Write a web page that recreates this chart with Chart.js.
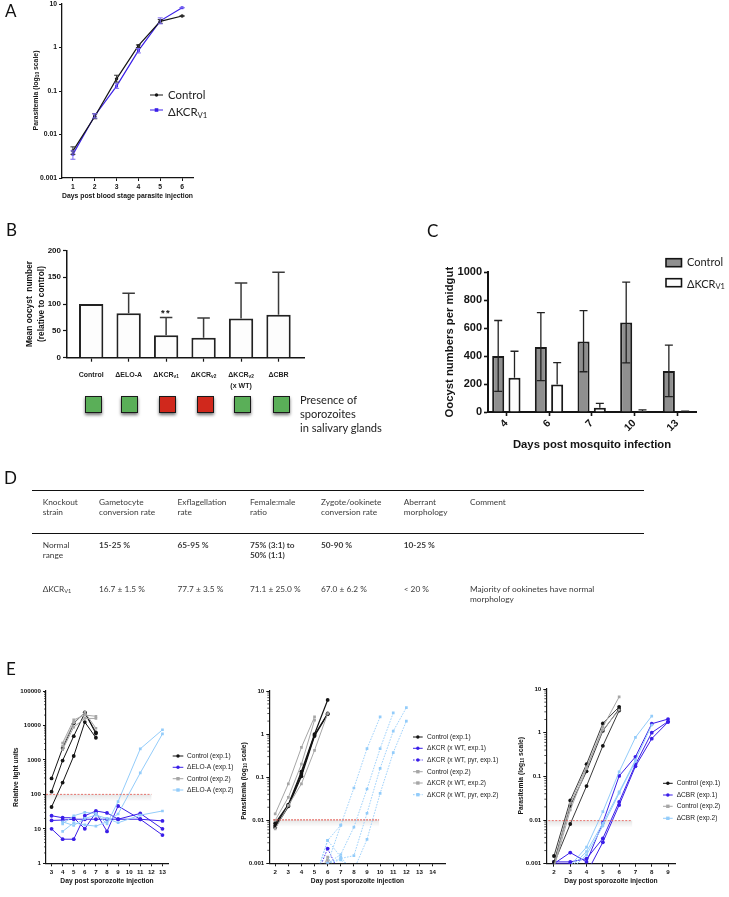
<!DOCTYPE html>
<html>
<head>
<meta charset="utf-8">
<script src="https://cdn.jsdelivr.net/npm/chart.js@4/dist/chart.umd.js"></script>
<style>
html,body{margin:0;padding:0;background:#fff}
#page{position:relative;width:729px;height:897px;overflow:hidden;filter:blur(.35px)}
canvas{position:absolute;display:block}
.t{position:absolute;font-family:Lato,sans-serif;color:#333;white-space:nowrap}
.rule{position:absolute;background:#111}
sub{font-size:.68em;line-height:0;vertical-align:-.25em}
.sq{position:absolute;box-sizing:border-box;border:1px solid #1a1a1a;box-shadow:0 2px 3px rgba(0,0,0,.55)}
</style>
</head>
<body>
<div id="page"></div>
<script>
/* ===== Panel A ===== */
const aDays=[1,2,3,4,5,6];
const aControl=[0.0042,0.026,0.19,1.1,4.0,5.3];
const aControlLow=[0.0035,0.023,0.16,1.0,3.6,5.3];
const aControlHigh=[0.0052,0.030,0.23,1.15,4.4,5.3];
const aKcr=[0.0035,0.027,0.13,0.85,4.1,8.2];
const aKcrLow=[0.0027,0.024,0.115,0.75,3.5,8.2];
const aKcrHigh=[0.0042,0.030,0.15,0.95,4.8,8.2];
const logTicksA=[0.001,0.01,0.1,1,10];
/* ===== Panel B ===== */
const bCategories=["Control","ΔELO-A","ΔKCR_{v1}","ΔKCR_{v2}","ΔKCR_{v2}\n(x WT)","ΔCBR"];
const bMeans=[100,83,42,37,73,80];
const bUpper=[null,120,75,74,139,159];
const bTicks=[0,50,100,150,200];
const bStars=["","","**","","",""];
const bSporozoites=["#5aaf58","#5aaf58","#d0281c","#d0281c","#5aaf58","#5aaf58"];
/* ===== Panel C ===== */
const cDays=["4","6","7","10","13"];
const cControl=[400,465,505,640,293];
const cControlLow=[147,225,288,352,110];
const cControlHigh=[655,712,725,930,478];
const cKcr=[245,197,30,8,3];
const cKcrHigh=[435,353,62,15,6];
const cTicks=[0,200,400,600,800,1000];
/* ===== Panel D ===== */
const dHeader=["Knockout<br>strain","Gametocyte<br>conversion rate","Exflagellation<br>rate","Female:male<br>ratio","Zygote/ookinete<br>conversion rate","Aberrant<br>morphology","Comment"];
const dNormal=["Normal<br>range","<b>15-25 %</b>","<b>65-95 %</b>","<b>75% (3:1) to<br>50% (1:1)</b>","<b>50-90 %</b>","<b>10-25 %</b>",""];
const dKcr=["ΔKCR<sub>V1</sub>","16.7 ± 1.5 %","77.7 ± 3.5 %","71.1 ± 25.0 %","67.0 ± 6.2 %","&lt; 20 %","Majority of ookinetes have normal<br>morphology"];
/* ===== Panel E, left ===== */
const e1Days=[3,4,5,6,7,8,9,11,13];
const e1Control1=[
 [290,2200,11500,24000,6300],
 [120,960,4900,23000,5800],
 [43,220,1300,12500,4400]];
const e1Control2=[
 [null,3100,14500,20000,18500],
 [null,2000,9000,16000,16000],
 [null,2500,12000,24000,8300]];
const e1Elo1=[
 [17.5,18,19,19,19,19,19,19,17],
 [24,21,21,10,30,8.4,46,19,6.6],
 [10,5,5,24,33,29,19,28,10]];
const e1Elo2=[
 [null,14,24,30,28,14,62,2100,7500],
 [null,8.4,15,13,12,16,27,420,5700],
 [null,16,12.5,20,25,20,15,25,33]];
const e1Threshold=100;
const e1Legend=["Control (exp.1)","ΔELO-A (exp.1)","Control (exp.2)","ΔELO-A (exp.2)"];
/* ===== Panel E, middle ===== */
const e2Days=[2,3,4,5,6,7,8,9,10,11,12];
const e2Control1=[
 [0.0085,0.023,0.135,1.0,6.2],
 [0.0068,0.021,0.105,0.9,2.9],
 [0.0075,0.022,0.12,0.95,3.0]];
const e2Control2=[
 [0.014,0.07,0.49,2.5],
 [0.010,0.034,0.2,2.1],
 [0.0063,0.022,0.07,0.42,3.0]];
const e2KcrWt1=[[null,null,null,0.0003,0.001,0.0003]];
const e2KcrPyr1=[[null,null,null,0.0004,0.0022,0.0005]];
const e2KcrWt2=[[null,null,null,0.0003,0.0014,0.0004],[null,null,null,0.0003,0.0012,0.0003]];
const e2KcrPyr2=[
 [null,null,null,0.0003,0.001,0.0077,0.056,0.46,2.5],
 [null,null,null,0.0003,0.001,0.0016,0.0069,0.053,0.46,3.1],
 [null,null,null,0.0003,0.001,0.0013,0.0015,0.0145,0.16,1.17,4.1],
 [null,null,null,0.0003,0.001,0.0012,0.0007,0.0036,0.042,0.37,2.0],
 [null,null,null,0.0004,0.0034,0.0014,0.0006],
 [null,null,null,0.0004,0.0034,0.0077]];
const e2Threshold=0.0102;
const e2Ticks=[2,3,4,5,6,7,8,9,10,11,12,13,14];
const e2Legend=["Control (exp.1)","ΔKCR (x WT, exp.1)","ΔKCR (x WT, pyr, exp.1)","Control (exp.2)","ΔKCR (x WT, exp.2)","ΔKCR (x WT, pyr, exp.2)"];
/* ===== Panel E, right ===== */
const e3Days=[2,3,4,5,6,7,8,9];
const e3Control1=[
 [0.0015,0.028,0.19,1.63,3.9],
 [0.0011,0.021,0.13,1.1,3.5],
 [0.001,0.0081,0.06,0.5,3.2]];
const e3Control2=[
 [0.0008,0.017,0.15,1.35,6.6],
 [0.0009,0.024,0.165,1.15,3.3]];
const e3Cbr1=[
 [0.001,0.0018,0.0011,0.0087,0.102,0.28,1.6,2.05],
 [0.0011,0.0011,0.0013,0.0038,0.026,0.187,1.0,1.8],
 [0.001,0.001,0.0006,0.0031,0.022,0.17,0.73,1.75]];
const e3Cbr2=[
 [null,0.0009,0.0024,0.0155,0.127,0.78,2.4],
 [null,0.0008,0.0019,0.0084,0.044,0.235,1.5],
 [null,0.0007,0.0016,0.0073,0.041,0.22]];
const e3Threshold=0.0097;
const e3Legend=["Control (exp.1)","ΔCBR (exp.1)","Control (exp.2)","ΔCBR (exp.2)"];

const BLACK="#141414",BLUE="#3a1ee8",GREY="#a6a6a6",LIGHT="#93ccfa",RED="#e2524a";
const SANS='"Liberation Sans",Arial,sans-serif';
const page=document.getElementById('page');

function fontStr(f){return (f.weight||'normal')+' '+f.size+'px '+(f.family||SANS);}
function drawRich(ctx,text,x,y,f,o={}){
  const parts=text.split(/(_\{[^}]*\})/).filter(Boolean).map(p=>{
    const sub=p.startsWith('_{');return {sub,s:sub?p.slice(2,-1):p};});
  const subF=Object.assign({},f,{size:f.size*0.68});
  ctx.save();ctx.translate(x,y);if(o.rotate)ctx.rotate(o.rotate);
  ctx.textBaseline='middle';ctx.textAlign='left';ctx.fillStyle=o.color||BLACK;
  let total=0;parts.forEach(p=>{ctx.font=fontStr(p.sub?subF:f);p.w=ctx.measureText(p.s).width;total+=p.w;});
  let cx=o.align==='center'?-total/2:0;
  parts.forEach(p=>{ctx.font=fontStr(p.sub?subF:f);ctx.fillText(p.s,cx,p.sub?f.size*0.28:0);cx+=p.w;});
  ctx.restore();
}
function makePlugin(box,extra){return {id:'panel',
  beforeDatasetsDraw(chart){
    const c=chart.ctx;
    (extra.bands||[]).forEach(b=>{
      const x0=chart.scales.x.getPixelForValue(b.from),x1=chart.scales.x.getPixelForValue(b.to),y=chart.scales.y.getPixelForValue(b.value);
      const g=c.createLinearGradient(0,y,0,y+7);g.addColorStop(0,'rgba(0,0,0,.10)');g.addColorStop(1,'rgba(0,0,0,0)');
      c.save();c.fillStyle=g;c.fillRect(x0,y,x1-x0,7);c.restore();
    });
  },
  afterDatasetsDraw(chart){
    const c=chart.ctx,ys=chart.scales.y;
    chart.data.datasets.forEach((ds,i)=>{
      if(!ds.errHigh)return;
      const meta=chart.getDatasetMeta(i);
      meta.data.forEach((el,j)=>{
        const hi=ds.errHigh[j],lo=ds.errLow?ds.errLow[j]:ds.data[j].y,cap=ds.errCap;
        if(hi==null)return;
        const yh=ys.getPixelForValue(hi),yl=ys.getPixelForValue(lo);
        c.save();c.strokeStyle=ds.errColor||BLACK;c.lineWidth=ds.errWidth||1;c.beginPath();
        c.moveTo(el.x,yh);c.lineTo(el.x,yl);
        c.moveTo(el.x-cap/2,yh);c.lineTo(el.x+cap/2,yh);
        if(ds.errLow){c.moveTo(el.x-cap/2,yl);c.lineTo(el.x+cap/2,yl);}
        c.stroke();c.restore();
      });
    });
  },
  afterDraw(chart){
    const c=chart.ctx;
    c.save();c.translate(-box.x,-box.y);
    if(extra.minor){
      const left=chart.scales.y.left+chart.scales.y.width;
      c.strokeStyle=BLACK;c.lineWidth=.7;c.beginPath();
      extra.minor.forEach(d=>{for(let k=2;k<10;k++){
        const y=chart.scales.y.getPixelForValue(d*k)+box.y;
        c.moveTo(left+box.x,y);c.lineTo(left+box.x-2,y);}});
      c.stroke();
    }
    (extra.rich||[]).forEach(r=>drawRich(c,r.text,r.x,r.y,r.font,r));
    if(extra.richAt)extra.richAt(chart,c,box);
    (extra.legend||[]).forEach(l=>{
      if(l.box){
        c.fillStyle=l.color;c.strokeStyle=BLACK;c.lineWidth=1.6;
        c.fillRect(l.x0,l.y-4,l.x1-l.x0,8);c.strokeRect(l.x0,l.y-4,l.x1-l.x0,8);
      }else{
        c.strokeStyle=l.color;c.lineWidth=l.width||1;c.setLineDash(l.dash||[]);
        c.beginPath();c.moveTo(l.x0,l.y);c.lineTo(l.x1,l.y);c.stroke();c.setLineDash([]);
        c.fillStyle=l.color;const mx=(l.x0+l.x1)/2,r=l.r||1.7;
        c.beginPath();
        if(l.marker==='rect')c.rect(mx-r,l.y-r,2*r,2*r);else c.arc(mx,l.y,r,0,7);
        c.fill();
      }
      drawRich(c,l.label,l.tx,l.ty||l.y,l.font,{color:l.textColor||'#222'});
    });
    c.restore();
  }};
}
function fixedBox(width,height){return s=>{
  if(width!=null)s.width=width;if(height!=null)s.height=height;
  s.paddingLeft=s.paddingRight=s.paddingTop=s.paddingBottom=0;};}
function panel(box,fr,spec){
  const cv=document.createElement('canvas');
  cv.width=box.w;cv.height=box.h;
  cv.style.left=box.x+'px';cv.style.top=box.y+'px';cv.style.width=box.w+'px';cv.style.height=box.h+'px';
  page.appendChild(cv);
  const tl=fr.titleLeft!=null?fr.titleLeft:box.x;
  const border={display:true,color:BLACK,width:fr.axis||1.2};
  const gridOf=()=>({display:true,drawOnChartArea:false,drawTicks:true,offset:false,tickLength:fr.tick||3,tickWidth:fr.tickWidth||1,tickColor:BLACK});
  const options={
    responsive:false,animation:false,devicePixelRatio:1,events:[],
    layout:{padding:{left:tl-box.x,top:fr.T-box.y,right:box.x+box.w-fr.R,bottom:box.y+box.h-fr.titleBottom}},
    plugins:{legend:{display:false},tooltip:{enabled:false},title:{display:false}},
    scales:{
      x:{type:'linear',offset:false,min:spec.xMin,max:spec.xMax,grid:gridOf(),border,
        afterBuildTicks:s=>{s.ticks=spec.xTicks.map(v=>({value:v}));},
        afterFit:fixedBox(null,fr.titleBottom-fr.B),
        ticks:Object.assign({autoSkip:false,maxRotation:0,minRotation:0,padding:spec.xPad==null?2:spec.xPad,color:BLACK,font:spec.tickFont,display:!spec.hideXLabels,callback:spec.xLabel||(v=>String(v))},spec.xTickExtra||{}),
        title:{display:!!spec.xTitle,text:spec.xTitle,color:BLACK,font:spec.titleFont,padding:0}},
      y:{type:spec.yType||'linear',min:spec.yMin,max:spec.yMax,grid:gridOf(),border,
        afterBuildTicks:s=>{s.ticks=spec.yTicks.map(v=>({value:v}));},
        afterFit:fixedBox(fr.L-tl,null),
        ticks:{autoSkip:false,padding:spec.yPad==null?2:spec.yPad,color:BLACK,font:spec.yTickFont||spec.tickFont,callback:v=>String(v)},
        title:spec.yTitle?{display:true,text:spec.yTitle,color:BLACK,font:spec.yTitleFont||spec.titleFont,padding:0}:{display:false}}
    }
  };
  return new Chart(cv.getContext('2d'),{type:spec.type,data:{datasets:spec.datasets},options,plugins:[makePlugin(box,spec.extra||{})]});
}
const bold=s=>({size:s,weight:'bold',family:SANS,lineHeight:1.2});
const lato=s=>({size:s,family:'Lato'});
function pts(days,row){return row.map((v,i)=>({x:days[i],y:v})).filter(p=>p.y!=null);}
function rows(days,list,style){return list.map(r=>({data:pts(days,r),borderColor:style.color,backgroundColor:style.color,pointBackgroundColor:style.pointColor||style.color,pointBorderColor:style.pointColor||style.color,borderWidth:style.width||1,pointRadius:style.r||1.9,pointBorderWidth:0,pointStyle:style.marker||'circle',borderDash:style.dash||[],tension:0,fill:false}));}
function thresholdLine(from,to,value,width,dash){return {data:[{x:from,y:value},{x:to,y:value}],borderColor:RED,borderWidth:width,borderDash:dash,pointRadius:0,fill:false};}

/* ----- A ----- */
panel({x:0,y:0,w:280,h:210},{L:62,T:3.7,R:193,B:178,titleBottom:200,axis:1.3,tick:3},{
  type:'line',xMin:.5,xMax:6.5,xTicks:aDays,yType:'logarithmic',yMin:.001,yMax:10,yTicks:logTicksA,
  tickFont:bold(6.8),titleFont:bold(6.9),xTitle:"Days post blood stage parasite injection",
  datasets:[
    Object.assign(rows(aDays,[aControl],{color:BLACK,r:1.7,width:1.2})[0],{errHigh:aControlHigh,errLow:aControlLow,errCap:5,errColor:'#333'}),
    Object.assign(rows(aDays,[aKcr],{color:BLUE,r:2,marker:'rect',width:1.2})[0],{errHigh:aKcrHigh,errLow:aKcrLow,errCap:5,errColor:'#7a68f0'})
  ],
  extra:{
    rich:[{text:"Parasitemia (log_{10} scale)",x:36,y:90.5,font:bold(6.9),rotate:-Math.PI/2,align:'center'}],
    legend:[
      {label:"Control",x0:150,x1:163,tx:168,y:95,color:BLACK,marker:'circle',font:lato(11.4),r:1.7},
      {label:"ΔKCR_{V1}",x0:150,x1:163,tx:168,y:110,ty:112,color:BLUE,marker:'rect',font:lato(11.4),r:1.8}
    ]}
});
/* ----- B ----- */
panel({x:0,y:215,w:400,h:180},{L:67,T:250.3,R:304,B:357.7,titleLeft:24,titleBottom:362,axis:1.5,tick:4,tickWidth:1.2},{
  type:'bar',xMin:.355,xMax:6.68,xTicks:[1,2,3,4,5,6],hideXLabels:true,yMin:0,yMax:200,yTicks:bTicks,
  tickFont:bold(8),titleFont:bold(1),xTitle:"",yTitle:["Mean oocyst  number","(relative to control)"],yTitleFont:{size:8.4,weight:'bold',family:SANS,lineHeight:1.42},
  datasets:[{data:bMeans.map((v,i)=>({x:i+1,y:v})),backgroundColor:'#fdfdfd',borderColor:'#222',borderWidth:2,categoryPercentage:1,barPercentage:.65,
    errHigh:bUpper,errCap:12.5,errWidth:1.5,errColor:'#3a3a3a'}],
  extra:{richAt(chart,c,box){
    const xs=chart.scales.x,ys=chart.scales.y;
    bCategories.forEach((lab,i)=>{
      const x=xs.getPixelForValue(i+1)+box.x;
      lab.split('\n').forEach((ln,k)=>drawRich(c,ln,x,375+k*10.7,bold(7),{align:'center',color:'#222'}));
      if(bStars[i]){c.save();c.font='bold 9.5px '+SANS;c.fillStyle=BLACK;c.textAlign='center';c.textBaseline='middle';
        c.letterSpacing='1.5px';c.fillText(bStars[i],x,ys.getPixelForValue(bUpper[i])+box.y-4);c.restore();}
    });
  }}
});
/* ----- C ----- */
panel({x:420,y:215,w:309,h:240},{L:488,T:272.3,R:696,B:412,titleLeft:443,titleBottom:452,axis:2,tick:4,tickWidth:1.6},{
  type:'bar',xMin:.57,xMax:5.445,xTicks:[1,2,3,4,5],xLabel:v=>cDays[v-1],xPad:1,xTickExtra:{maxRotation:45,minRotation:45},
  yMin:0,yMax:1000,yTicks:cTicks,tickFont:bold(10.5),yTickFont:bold(11),titleFont:bold(11.3),xTitle:"Days post mosquito infection",yTitle:"Oocyst numbers per midgut",
  datasets:[
    {data:cControl.map((v,i)=>({x:i+1,y:v})),backgroundColor:'#8f8f8f',borderColor:'#1a1a1a',borderWidth:2,categoryPercentage:.764,barPercentage:.74,errHigh:cControlHigh,errLow:cControlLow,errCap:8,errWidth:1.3,errColor:'#222'},
    {data:cKcr.map((v,i)=>({x:i+1,y:v})),backgroundColor:'#fdfdfd',borderColor:'#1a1a1a',borderWidth:2,categoryPercentage:.764,barPercentage:.74,errHigh:cKcrHigh,errCap:8,errWidth:1.3,errColor:'#222'}
  ],
  extra:{legend:[
    {box:true,label:"Control",x0:666,x1:681.5,tx:687,y:262.7,color:'#8f8f8f',font:lato(11)},
    {box:true,label:"ΔKCR_{V1}",x0:666,x1:681.5,tx:687,y:282.7,ty:284,color:'#fdfdfd',font:lato(11)}
  ]}
});
/* ----- E left ----- */
const eTick=bold(6.2),eTitle=bold(6.7),eLeg=()=>({size:6.6,family:SANS});
function legendOf(labels,styles,x0,x1,tx,ys){return labels.map((l,i)=>Object.assign({label:l,x0,x1,tx,y:ys[i],font:eLeg(),textColor:'#222'},styles[i]));}
panel({x:0,y:655,w:240,h:242},{L:46,T:691,R:168,B:863.3,titleLeft:12,titleBottom:885,axis:1.2,tick:3},{
  type:'line',xMin:2.5,xMax:13.5,xTicks:[3,4,5,6,7,8,9,10,11,12,13],yType:'logarithmic',yMin:1,yMax:100000,yTicks:[1,10,100,1000,10000,100000],
  tickFont:eTick,titleFont:eTitle,xTitle:"Day post sporozoite injection",yTitle:"Relative light units",
  datasets:[
    thresholdLine(2.5,12,e1Threshold,.8,[2,1.5]),
    ...rows(e1Days,e1Control2,{color:GREY,marker:'rect'}),
    ...rows(e1Days,e1Elo2,{color:LIGHT,marker:'rect'}),
    ...rows(e1Days,e1Control1,{color:BLACK}),
    ...rows(e1Days,e1Elo1,{color:BLUE})
  ],
  extra:{minor:[1,10,100,1000,10000],bands:[{from:2.5,to:12,value:e1Threshold}],
    legend:legendOf(e1Legend,[{color:BLACK},{color:BLUE},{color:GREY,marker:'rect'},{color:LIGHT,marker:'rect'}],172.7,183.3,187,[756,767.3,778.7,790])}
});
/* ----- E middle ----- */
panel({x:235,y:655,w:265,h:242},{L:269.3,T:691,R:445.7,B:863.3,titleBottom:885,axis:1.2,tick:3},{
  type:'line',xMin:1.55,xMax:15,xTicks:e2Ticks,yType:'logarithmic',yMin:.001,yMax:10,yTicks:logTicksA,
  tickFont:eTick,titleFont:eTitle,xTitle:"Day post sporozoite injection",
  datasets:[
    thresholdLine(1.85,9.92,e2Threshold,1.4,[1.6,1.4]),
    ...rows(e2Days,e2Control2,{color:GREY,marker:'rect'}),
    ...rows(e2Days,e2KcrPyr2,{color:LIGHT,marker:'rect',dash:[1.6,1.3],width:.9}),
    ...rows(e2Days,e2KcrWt2,{color:GREY,marker:'rect',width:.8}),
    ...rows(e2Days,e2KcrWt1,{color:BLUE}),
    ...rows(e2Days,e2KcrPyr1,{color:BLUE,dash:[1.6,1.3],width:.9}),
    ...rows(e2Days,e2Control1,{color:BLACK,width:1.2})
  ],
  extra:{minor:[.001,.01,.1,1],bands:[{from:1.85,to:9.92,value:e2Threshold}],
    rich:[{text:"Parasitemia (log_{10} scale)",x:244.3,y:781,font:eTitle,rotate:-Math.PI/2,align:'center'}],
    legend:legendOf(e2Legend,[{color:BLACK},{color:BLUE},{color:BLUE,dash:[1.6,1.3]},{color:GREY,marker:'rect'},{color:GREY,marker:'rect'},{color:LIGHT,marker:'rect',dash:[1.6,1.3]}],413,422.7,427,[737,748.3,760,771.7,783,794.7])}
});
/* ----- E right ----- */
panel({x:500,y:655,w:229,h:242},{L:546.3,T:689,R:675.7,B:863.7,titleBottom:885,axis:1.2,tick:3},{
  type:'line',xMin:1.53,xMax:9.47,xTicks:e3Days,yType:'logarithmic',yMin:.001,yMax:10,yTicks:logTicksA,
  tickFont:eTick,titleFont:eTitle,xTitle:"Day post sporozoite injection",
  datasets:[
    thresholdLine(1.65,6.8,e3Threshold,.8,[2,1.5]),
    ...rows(e3Days,e3Control2,{color:GREY,marker:'rect'}),
    ...rows(e3Days,e3Cbr2,{color:LIGHT,marker:'rect'}),
    ...rows(e3Days,e3Control1,{color:'#3a3a3a',pointColor:BLACK}),
    ...rows(e3Days,e3Cbr1,{color:BLUE})
  ],
  extra:{minor:[.001,.01,.1,1],bands:[{from:1.65,to:6.8,value:e3Threshold}],
    rich:[{text:"Parasitemia (log_{10} scale)",x:520.7,y:775.7,font:eTitle,rotate:-Math.PI/2,align:'center'}],
    legend:legendOf(e3Legend,[{color:BLACK},{color:BLUE},{color:GREY,marker:'rect'},{color:LIGHT,marker:'rect'}],663,672.7,676.7,[783.3,795,806.3,818.3])}
});

/* ----- HTML text: letters, squares, table ----- */
function text(html,x,y,size,extra){const d=document.createElement('div');d.className='t';d.innerHTML=html;
  d.style.left=x+'px';d.style.top=y+'px';d.style.fontSize=size+'px';if(extra)Object.assign(d.style,extra);page.appendChild(d);return d;}
[["A",5,0],["B",6,219],["C",427,220],["D",4,467],["E",6,658]].forEach(([l,x,y])=>text(l,x,y,17,{color:'#111',lineHeight:'22px'}));
const sqX=[93.3,129.3,167.3,205,242.3,281.7];
bSporozoites.forEach((col,i)=>{const s=document.createElement('div');s.className='sq';
  s.style.cssText=`left:${sqX[i]-8.5}px;top:396px;width:17px;height:17px;background:${col}`;page.appendChild(s);});
text("Presence of<br>sporozoites<br>in salivary glands",300,393,11.1,{lineHeight:'14.2px',color:'#222'});
function rule(y,h){const r=document.createElement('div');r.className='rule';r.style.cssText=`left:32px;top:${y}px;width:611.5px;height:${h}px`;page.appendChild(r);}
rule(489.5,1.1);rule(533.2,1.1);
const dColX=[42.7,99,177.5,250,321,403.7,470];
[[dHeader,496.8],[dNormal,540.2],[dKcr,583.5]].forEach(([row,y])=>row.forEach((c,i)=>{
  if(c)text(c,dColX[i],y,8.3,{lineHeight:'10.3px',color:'#3a3a3a'});}));
</script>
</body>
</html>
